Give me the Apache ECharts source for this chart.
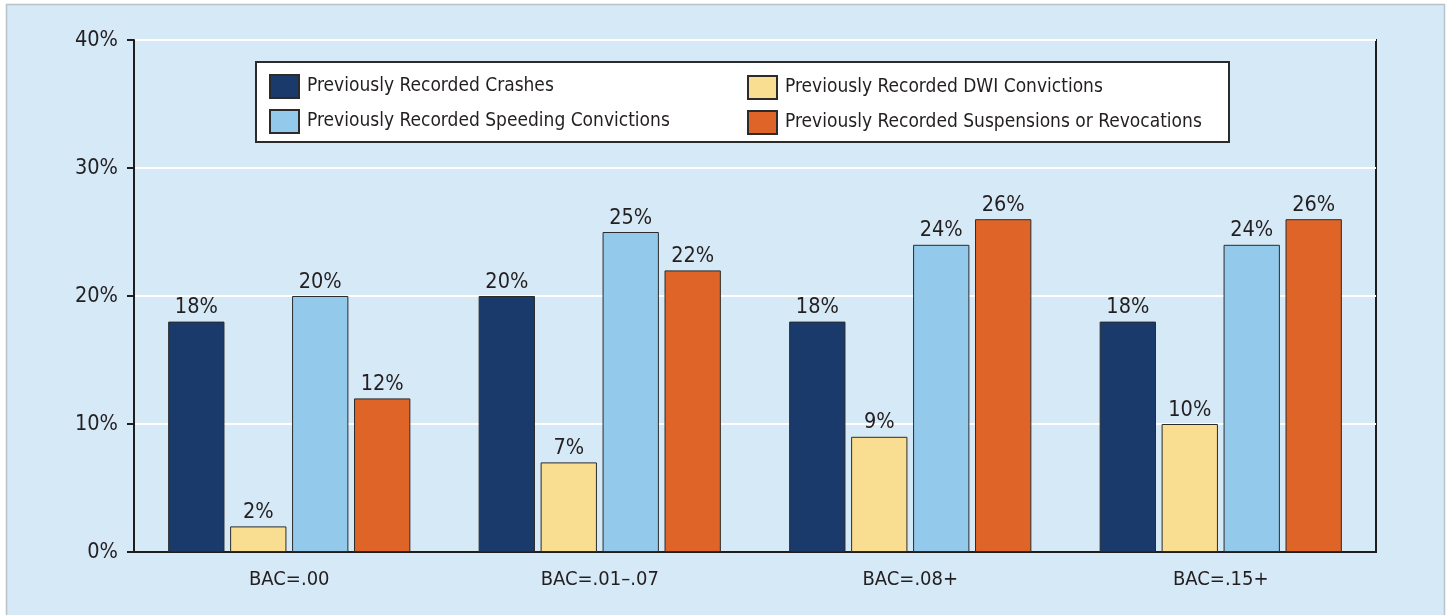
<!DOCTYPE html>
<html>
<head>
<meta charset="utf-8">
<script src="https://cdn.jsdelivr.net/npm/echarts@6/dist/echarts.min.js"></script>
<style>
  html, body { margin: 0; padding: 0; background: #ffffff; }
  #chart { width: 1449px; height: 615px; }
</style>
</head>
<body>
<div id="chart"></div>
<script>
// Categories along the x axis (blood alcohol concentration groups)
var categories = ['BAC=.00', 'BAC=.01\u2013.07', 'BAC=.08+', 'BAC=.15+'];

// Share of drivers with each prior record, in percent
var crashes     = [18, 20, 18, 18];
var dwi         = [2, 7, 9, 10];
var speeding    = [20, 25, 24, 24];
var suspensions = [12, 22, 26, 26];

var seriesNames = [
  'Previously Recorded Crashes',
  'Previously Recorded DWI Convictions',
  'Previously Recorded Speeding Convictions',
  'Previously Recorded Suspensions or Revocations'
];
var seriesColors = ['#1a3a6c', '#f9dd91', '#93c9ea', '#de6428'];
var seriesData = [crashes, dwi, speeding, suspensions];

var FONT = '"DejaVu Sans Condensed", "Liberation Sans", Arial, sans-serif';
var TEXT = '#231f20';

var chart = echarts.init(document.getElementById('chart'), null, { renderer: 'canvas' });

var series = seriesData.map(function (values, i) {
  return {
    name: seriesNames[i],
    type: 'bar',
    data: values,
    barGap: '10%',
    barCategoryGap: '22%',
    itemStyle: { color: seriesColors[i], borderColor: '#2b2b2b', borderWidth: 1 },
    label: {
      show: true,
      position: 'top',
      distance: 3,
      formatter: '{c}%',
      fontFamily: FONT,
      fontSize: 21.5,
      color: TEXT
    },
    emphasis: { disabled: true }
  };
});

var legendCommon = {
  orient: 'vertical',
  itemWidth: 29,
  itemHeight: 23,
  itemGap: 10,
  icon: 'rect',
  padding: 0,
  selectedMode: false,
  z: 20,
  textStyle: { fontFamily: FONT, fontSize: 19, color: TEXT, padding: [0, 0, 0, 3] }
};

chart.setOption({
  backgroundColor: '#ffffff',
  animation: false,
  graphic: [
    {
      type: 'rect',
      z: -10,
      silent: true,
      shape: { x: 6.5, y: 4.5, width: 1438, height: 620 },
      style: { fill: '#d6e9f7', stroke: '#b9c3cc', lineWidth: 1.5 }
    },
    {
      type: 'rect',
      z: 10,
      silent: true,
      shape: { x: 256, y: 62, width: 973, height: 80 },
      style: { fill: '#ffffff', stroke: '#2b2b2b', lineWidth: 2 }
    }
  ],
  legend: [
    Object.assign({ left: 269, top: 74, data: [seriesNames[0], seriesNames[2]] }, legendCommon),
    Object.assign({ left: 747, top: 75, data: [seriesNames[1], seriesNames[3]] }, legendCommon)
  ],
  grid: {
    left: 134, top: 40, right: 73, bottom: 63,
    show: true,
    borderColor: '#1e1e1e',
    borderWidth: 2,
    backgroundColor: 'transparent'
  },
  xAxis: {
    type: 'category',
    data: categories,
    axisLine: { show: true, lineStyle: { color: '#1e1e1e', width: 2 } },
    axisTick: { show: false },
    axisLabel: { fontFamily: FONT, fontSize: 20, color: TEXT, margin: 18 }
  },
  yAxis: {
    type: 'value',
    min: 0,
    max: 40,
    interval: 10,
    axisLine: { show: true, lineStyle: { color: '#1e1e1e', width: 2 } },
    axisTick: { show: true, inside: false, length: 7, lineStyle: { color: '#1e1e1e', width: 2 } },
    axisLabel: { formatter: '{value}%', fontFamily: FONT, fontSize: 21.5, color: TEXT, margin: 16 },
    splitLine: { show: true, lineStyle: { color: '#ffffff', width: 2 } }
  },
  series: series
});
</script>
</body>
</html>
